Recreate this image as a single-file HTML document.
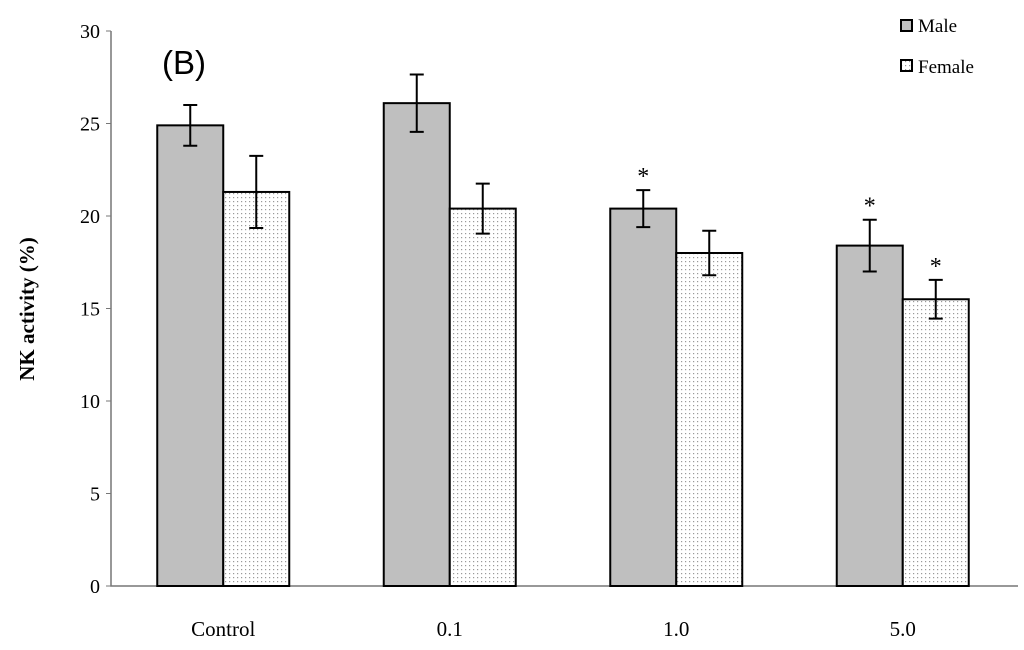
<!DOCTYPE html>
<html><head><meta charset="utf-8"><style>
body{margin:0;background:#fff;}
svg{display:block;font-family:"Liberation Serif",serif;}
</style></head><body>
<svg id="chart" width="1024" height="650">
<defs>
<pattern id="dots" width="4" height="4" patternUnits="userSpaceOnUse">
<rect width="4" height="4" fill="#fff"/><rect x="1" y="1" width="1.2" height="1.2" fill="#999"/>
</pattern>
</defs>
<text x="162" y="74" font-family="Liberation Sans, sans-serif" font-size="33" fill="#000">(B)</text>
<text transform="translate(34,309) rotate(-90)" text-anchor="middle" font-size="21" font-weight="bold">NK activity (%)</text>
<g>
<rect x="901" y="20" width="11" height="11" fill="#bfbfbf" stroke="#000" stroke-width="2"/>
<text x="918" y="32" font-size="19">Male</text>
<rect x="901" y="60" width="11" height="11" fill="url(#dots)" stroke="#000" stroke-width="2"/>
<text x="918" y="73" font-size="19">Female</text>
</g>
<g id="plot"></g>
</svg>
<script>
const categories = ["Control","0.1","1.0","5.0"];
const maleValues = [24.9,26.1,20.4,18.4];
const maleErrors = [1.1,1.55,1.0,1.4];
const femaleValues = [21.3,20.4,18.0,15.5];
const femaleErrors = [1.95,1.35,1.2,1.05];
const maleSig = [false,false,true,true];
const femaleSig = [false,false,false,true];
const yTicks = [0,5,10,15,20,25,30];

const NS="http://www.w3.org/2000/svg";
const g=document.getElementById('plot');
const x0=110,yBase=586,yTop=31,yMax=30,step=226.5,barW=66;
const y=v=>yBase-(v/yMax)*(yBase-yTop);
const cx=i=>x0+step*(i+0.5);
function mk(t,a){const e=document.createElementNS(NS,t);for(const k in a)e.setAttribute(k,a[k]);g.appendChild(e);return e;}
let ax=mk('path',{d:`M${x0+1},${yTop} V${yBase} H1018`,stroke:'#777',fill:'none','stroke-width':1.5});


yTicks.forEach(t=>{
 const tl=mk('line',{x1:x0-4,x2:x0+1,y1:y(t),y2:y(t),stroke:'#777'});
 
 
 const e=mk('text',{x:100,y:y(t)+7,'text-anchor':'end','font-size':20});
 e.textContent=t;
 
 
});
function bar(i,v,err,sig,off,fill,name){
 const bx=cx(i)+off;
 const r=mk('rect',{x:bx,y:y(v),width:barW,height:yBase-y(v),fill:fill,stroke:'#000','stroke-width':2});
 
 
 const m=bx+barW/2;
 const eb=mk('path',{d:`M${m},${y(v+err)} V${y(v-err)} M${m-7},${y(v+err)} H${m+7} M${m-7},${y(v-err)} H${m+7}`,stroke:'#000','stroke-width':2,fill:'none'});
 
 
 if(sig){const s=mk('text',{x:m,y:y(v+err)-6,'text-anchor':'middle','font-size':24});s.textContent='*';
 
 }
}
categories.forEach((c,i)=>{
 bar(i,maleValues[i],maleErrors[i],maleSig[i],-barW,'#bfbfbf','male');
 bar(i,femaleValues[i],femaleErrors[i],femaleSig[i],0,'url(#dots)','female');
 const t=mk('text',{x:cx(i),y:636,'text-anchor':'middle','font-size':21});t.textContent=c;
 
 
});
</script>
</body></html>
